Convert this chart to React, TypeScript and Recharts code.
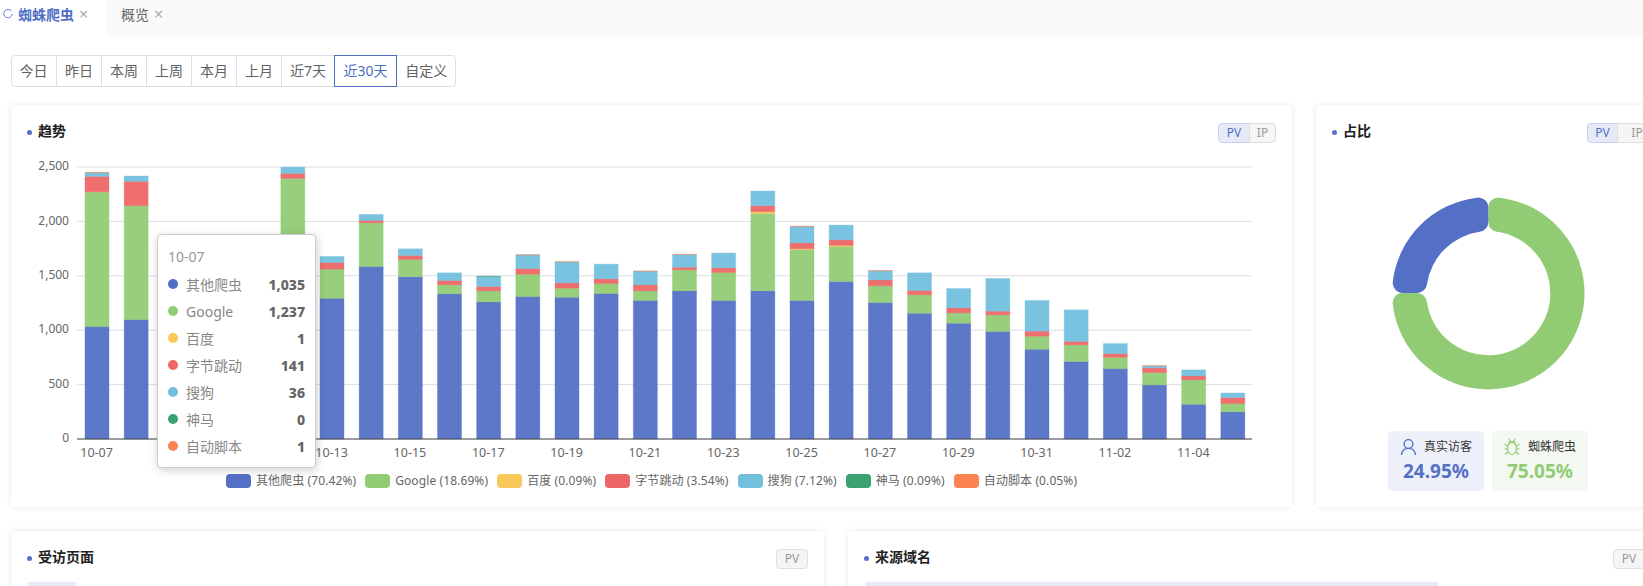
import type { CSSProperties, ReactNode } from 'react';
import {
  BarChart,
  Bar,
  XAxis,
  YAxis,
  CartesianGrid,
  Tooltip,
  Legend,
  PieChart,
  Pie,
  Cell,
} from 'recharts';

const DATES = [
  '10-07', '10-08', '10-09', '10-10', '10-11', '10-12', '10-13', '10-14', '10-15', '10-16',
  '10-17', '10-18', '10-19', '10-20', '10-21', '10-22', '10-23', '10-24', '10-25', '10-26',
  '10-27', '10-28', '10-29', '10-30', '10-31', '11-01', '11-02', '11-03', '11-04', '11-05',
];

// 10-09 to 10-11 sit behind the tooltip in the picture, so those values are rough estimates
const OTHER = [1035, 1098, 1250, 1180, 1220, 1350, 1294, 1586, 1491, 1334, 1260, 1310, 1303, 1337, 1273, 1362, 1273, 1362, 1273, 1448, 1254, 1156, 1064, 988, 825, 712, 647, 497, 319, 251];
const GOOGLE = [1237, 1046, 380, 300, 280, 1045, 267, 401, 159, 83, 102, 205, 83, 92, 89, 193, 257, 711, 469, 322, 154, 169, 95, 153, 120, 153, 104, 113, 224, 74];
const BAIDU = [1, 0, 0, 0, 0, 0, 0, 0, 0, 0, 0, 0, 0, 0, 0, 0, 1, 16, 6, 9, 0, 0, 0, 0, 0, 0, 0, 0, 0, 0];
const BYTEDANCE = [141, 224, 60, 50, 48, 46, 61, 22, 37, 40, 40, 52, 49, 43, 55, 24, 43, 55, 55, 52, 55, 40, 46, 34, 46, 31, 34, 43, 37, 55];
const SOGOU = [36, 49, 60, 70, 60, 58, 56, 55, 61, 70, 92, 126, 194, 135, 126, 117, 135, 135, 151, 135, 83, 162, 178, 300, 282, 291, 92, 19, 55, 43];
const SHENMA = [0, 0, 0, 0, 0, 0, 0, 0, 0, 0, 2, 0, 0, 0, 0, 0, 0, 0, 0, 0, 0, 0, 0, 0, 0, 0, 0, 0, 0, 0];
const SCRIPT = [1, 0, 0, 0, 0, 0, 0, 0, 0, 0, 0, 1, 1, 0, 1, 1, 0, 0, 1, 0, 3, 0, 0, 0, 0, 0, 0, 2, 0, 0];

const SERIES_NAMES = ['其他爬虫', 'Google', '百度', '字节跳动', '搜狗', '神马', '自动脚本'];
const SERIES_VALUES = [OTHER, GOOGLE, BAIDU, BYTEDANCE, SOGOU, SHENMA, SCRIPT];
const SERIES_SHARE = ['70.42%', '18.69%', '0.09%', '3.54%', '7.12%', '0.09%', '0.05%'];
const COLORS = ['#5470c6', '#91cc75', '#fac858', '#ee6666', '#73c0de', '#3ba272', '#fc8452'];
const Y_TICKS = [0, 500, 1000, 1500, 2000, 2500];

const SHARE_NAMES = ['蜘蛛爬虫', '真实访客'];
const SHARE_VALUES = [75.05, 24.95];
const SHARE_COLORS = ['#91cc75', '#5470c6'];

const RANGE_LABELS = ['今日', '昨日', '本周', '上周', '本月', '上月', '近7天', '近30天', '自定义'];
const RANGE_WIDTHS = [46, 45, 45, 45, 45, 45, 52, 62.5, 59.5];

const chartData = DATES.map((name, i) => {
  const row: Record<string, string | number> = { name };
  SERIES_NAMES.forEach((s, k) => {
    row[s] = SERIES_VALUES[k][i];
  });
  return row;
});
const shareData = SHARE_NAMES.map((name, i) => ({ name, value: SHARE_VALUES[i] }));

function abs(left: number, top: number, width: number, height: number): CSSProperties {
  return { position: 'absolute', left, top, width, height, boxSizing: 'border-box' };
}

// single line of text, vertically centred on cy
function Txt({ x, cy, size = 14, color = '#333', weight = 400, children }: { x: number; cy: number; size?: number; color?: string; weight?: number; children: ReactNode }) {
  return (
    <div style={{ position: 'absolute', left: x, top: cy - 12, height: 24, lineHeight: '24px', fontSize: size, color, fontWeight: weight, whiteSpace: 'nowrap' }}>
      {children}
    </div>
  );
}

function Card({ x, y, w, h }: { x: number; y: number; w: number; h: number }) {
  return <div style={{ ...abs(x, y, w, h), background: '#fff', borderRadius: 4, boxShadow: '0 0 6px rgba(0,0,0,0.09)' }} />;
}

function Title({ x, cy, text }: { x: number; cy: number; text: string }) {
  return (
    <>
      <div style={{ ...abs(x, cy - 2.5, 5, 5), borderRadius: '50%', background: '#5470c6' }} />
      <Txt x={x + 11} cy={cy - 1.5} weight={700} color="#222">{text}</Txt>
    </>
  );
}

function Toggle({ x, y, w, label, on, side }: { x: number; y: number; w: number; label: string; on?: boolean; side?: 'l' | 'r' }) {
  return (
    <div
      style={{
        ...abs(x, y, w, 20),
        background: on ? '#e6eaf7' : '#f5f5f5',
        border: `1px solid ${on ? '#c5cfee' : '#dedede'}`,
        borderRadius: side === 'l' ? '4px 0 0 4px' : side === 'r' ? '0 4px 4px 0' : 4,
        color: on ? '#5470c6' : '#999',
        fontSize: 12,
        lineHeight: '18px',
        textAlign: 'center',
      }}
    >
      {label}
    </div>
  );
}

function TrendTooltip({ active, payload, label }: any) {
  if (!active || !payload?.length) return null;
  return (
    <div style={{ width: 159, height: 234, boxSizing: 'border-box', background: '#fff', border: '1px solid #ccc', borderRadius: 4, boxShadow: '1px 2px 10px rgba(0,0,0,0.2)', padding: '8px 10px 0 10px' }}>
      <div style={{ height: 27.5, lineHeight: '27px', fontSize: 14, color: '#999' }}>{label}</div>
      {payload.map((p: any) => (
        <div key={p.name} style={{ display: 'flex', alignItems: 'center', height: 27, fontSize: 14, color: '#888' }}>
          <span style={{ width: 10, height: 10, borderRadius: '50%', marginRight: 8, background: COLORS[SERIES_NAMES.indexOf(p.name)] }} />
          <span style={{ flex: 1 }}>{p.name}</span>
          <span style={{ fontWeight: 800, color: '#666' }}>{Number(p.value).toLocaleString('en-US')}</span>
        </div>
      ))}
    </div>
  );
}

function TrendLegend({ payload }: any) {
  return (
    <div style={{ display: 'flex', justifyContent: 'center', paddingTop: 5, fontSize: 12, color: '#666', lineHeight: '14px', letterSpacing: 0.1 }}>
      {(payload ?? []).map((p: any) => {
        const i = SERIES_NAMES.indexOf(p.value);
        return (
          <div key={p.value} style={{ display: 'flex', alignItems: 'center', marginRight: i === 6 ? 0 : 9 }}>
            <span style={{ width: 25, height: 14, borderRadius: 4, background: COLORS[i], marginRight: 5 }} />
            <span style={{ whiteSpace: 'nowrap' }}>{`${p.value} (${SERIES_SHARE[i]})`}</span>
          </div>
        );
      })}
    </div>
  );
}

function TrendChart() {
  return (
    <BarChart width={1281} height={402} data={chartData} margin={{ top: 62, right: 40, bottom: 0, left: 0 }}>
      <CartesianGrid vertical={false} stroke="#dcdde6" />
      <XAxis
        dataKey="name"
        interval={1}
        height={30}
        tickLine={false}
        tickMargin={3}
        axisLine={{ stroke: '#4a4a4a' }}
        tick={{ fontSize: 12.5, fill: '#666' }}
      />
      <YAxis
        width={66}
        domain={[0, 2500]}
        ticks={Y_TICKS}
        tickLine={false}
        axisLine={false}
        tickMargin={2}
        tick={{ fontSize: 12, fill: '#666', dy: -1 }}
        tickFormatter={(v: number) => v.toLocaleString('en-US')}
      />
      <Tooltip
        active
        defaultIndex={0}
        position={{ x: 146, y: 129 }}
        cursor={false}
        isAnimationActive={false}
        itemSorter={(item: any) => SERIES_NAMES.indexOf(item.name)}
        content={<TrendTooltip />}
      />
      <Legend
        verticalAlign="bottom"
        height={38}
        itemSorter={null}
        wrapperStyle={{ left: 0, width: 1281 }}
        content={<TrendLegend />}
      />
      {SERIES_NAMES.map((s, i) => (
        <Bar
          key={s}
          dataKey={s}
          stackId="a"
          barSize={24}
          fill={COLORS[i]}
          fillOpacity={0.95}
          stroke={COLORS[i]}
          strokeOpacity={0.35}
          isAnimationActive={false}
          activeBar={false}
        />
      ))}
    </BarChart>
  );
}

function ShareChart() {
  return (
    <PieChart width={340} height={402} margin={{ top: 0, right: 0, bottom: 0, left: 0 }}>
      <Pie
        data={shareData}
        dataKey="value"
        cx={172.3}
        cy={188.2}
        innerRadius={62}
        outerRadius={96.2}
        startAngle={90}
        endAngle={-270}
        cornerRadius={10}
        stroke="none"
        isAnimationActive={false}
      >
        {shareData.map((d, i) => (
          <Cell key={d.name} fill={SHARE_COLORS[i]} />
        ))}
      </Pie>
    </PieChart>
  );
}

export default function App() {
  let rangeX = 0;
  return (
    <div style={{ position: 'absolute', left: 0, top: 0, width: 1643, height: 586, overflow: 'hidden', background: '#fff', fontFamily: '"Noto Sans", "Noto Sans CJK SC", sans-serif' }}>
      {/* tabs */}
      <div style={{ ...abs(106, 0, 1537, 37), background: '#fafafa' }} />
      <svg style={abs(3, 9, 10, 10)} viewBox="0 0 10 10">
        <path d="M8.5 2.2 A4.2 4.2 0 1 0 9.2 5" fill="none" stroke="#5470c6" strokeWidth="0.9" />
      </svg>
      <Txt x={18} cy={15} weight={600} color="#4e6ec5">蜘蛛爬虫</Txt>
      <Txt x={79} cy={14} size={16} color="#aaa">×</Txt>
      <Txt x={121} cy={15} color="#666">概览</Txt>
      <Txt x={154} cy={14} size={16} color="#aaa">×</Txt>

      {/* date range buttons */}
      <div style={{ ...abs(11, 55, 445, 32), border: '1px solid #dcdfe6', borderRadius: 4 }} />
      {RANGE_LABELS.map((l, i) => {
        const x = 11 + rangeX;
        rangeX += RANGE_WIDTHS[i];
        const on = i === 7;
        const edge: CSSProperties = on
          ? { border: '1px solid #4e6ec5' }
          : i < 6
            ? { borderRight: '1px solid #dcdfe6' }
            : {};
        return (
          <div
            key={l}
            style={{
              ...abs(x, 55, RANGE_WIDTHS[i] + (on ? 0.5 : 0), 32),
              ...edge,
              lineHeight: on ? '30px' : '32px',
              textAlign: 'center',
              fontSize: 14,
              color: on ? '#4e6ec5' : '#606266',
            }}
          >
            {l}
          </div>
        );
      })}

      {/* trend card */}
      <Card x={11} y={105} w={1281} h={402} />
      <Title x={27} cy={132} text="趋势" />
      <Toggle x={1218} y={123} w={32} label="PV" on side="l" />
      <Toggle x={1249} y={123} w={27} label="IP" side="r" />
      <div style={abs(11, 105, 1281, 402)}>
        <TrendChart />
      </div>

      {/* share card */}
      <Card x={1316} y={105} w={400} h={402} />
      <Title x={1332} cy={132} text="占比" />
      <Toggle x={1587} y={123} w={31} label="PV" on side="l" />
      <Toggle x={1617} y={123} w={40} label="IP" side="r" />
      <div style={abs(1316, 105, 327, 402)}>
        <ShareChart />
      </div>

      <div style={{ ...abs(1388, 431, 96, 60), background: '#eef0f9', borderRadius: 4 }} />
      <svg style={abs(1400, 438, 17, 18)} viewBox="0 0 17 18" fill="none" stroke="#5470c6" strokeWidth="1.4">
        <circle cx="8.5" cy="6" r="4.4" />
        <path d="M1.5 17 C2 12.5 5 10.4 8.5 10.4 C12 10.4 15 12.5 15.5 17" />
      </svg>
      <Txt x={1424} cy={447} size={12} color="#333">真实访客</Txt>
      <Txt x={1403} cy={471} size={19} weight={700} color="#5470c6">24.95%</Txt>

      <div style={{ ...abs(1492, 431, 96, 60), background: '#f3f8f0', borderRadius: 4 }} />
      <svg style={abs(1504, 438, 16, 18)} viewBox="0 0 16 18" fill="none" stroke="#91cc75" strokeWidth="1.2">
        <ellipse cx="8" cy="10.5" rx="4.4" ry="6" />
        <path d="M4.8 5.5 C5 2.5 11 2.5 11.2 5.5 M5 1 L6 3 M11 1 L10 3 M0.5 6 L4 8 M15.5 6 L12 8 M0.5 11 L3.6 11 M15.5 11 L12.4 11 M1 16.5 L4.2 14 M15 16.5 L11.8 14" />
      </svg>
      <Txt x={1528} cy={447} size={12} color="#333">蜘蛛爬虫</Txt>
      <Txt x={1507} cy={471} size={19} weight={700} color="#91cc75">75.05%</Txt>

      {/* lower cards, cut off by the window */}
      <Card x={11} y={531} w={813} h={120} />
      <Title x={27} cy={558} text="受访页面" />
      <Toggle x={776} y={549} w={32} label="PV" />
      <div style={{ ...abs(28, 582, 48, 10), background: '#e6e9f6' }} />

      <Card x={848} y={531} w={860} h={120} />
      <Title x={864} cy={558} text="来源域名" />
      <Toggle x={1613} y={549} w={32} label="PV" />
      <div style={{ ...abs(865, 582, 573, 10), background: '#e6e9f6' }} />
    </div>
  );
}
